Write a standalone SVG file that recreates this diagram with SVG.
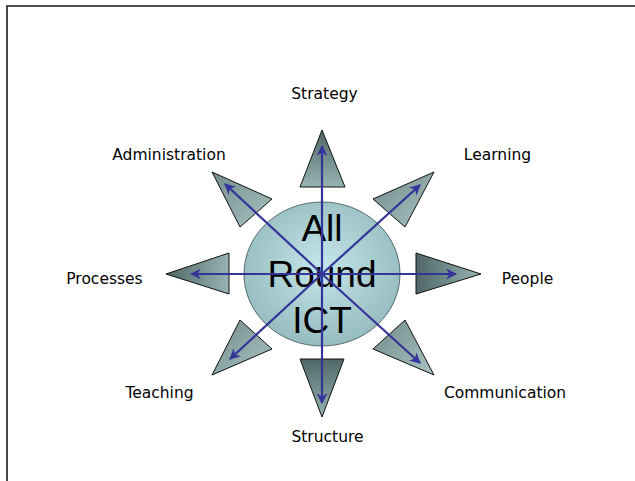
<svg xmlns="http://www.w3.org/2000/svg" width="635" height="481" viewBox="0 0 635 481">
  <style>
    .frame { fill: none; stroke: #1a1a1a; stroke-width: 1.6; }
    .spike { stroke: #111; stroke-width: 1; stroke-linejoin: miter; }
    .label { font-family: "DejaVu Sans", Tahoma, sans-serif; font-size: 15.5px; fill: #000; text-anchor: middle; }
    .core-text { font-family: "Liberation Sans", Arial, sans-serif; font-size: 37px; fill: #000; text-anchor: middle; }
    .arrow { stroke: #343499; stroke-width: 2.2; fill: none; marker-end: url(#head); }
  </style>
  <defs>
    <linearGradient id="gV" x1="0" y1="0" x2="0" y2="1">
      <stop offset="0" stop-color="#4f6767"/>
      <stop offset="1" stop-color="#98b3b3"/>
    </linearGradient>
    <linearGradient id="gH" x1="0" y1="0" x2="1" y2="0">
      <stop offset="0" stop-color="#4f6767"/>
      <stop offset="1" stop-color="#98b3b3"/>
    </linearGradient>
    <linearGradient id="gD" x1="0" y1="0" x2="1" y2="1">
      <stop offset="0" stop-color="#728c8c"/>
      <stop offset="1" stop-color="#a9c3c3"/>
    </linearGradient>
    <radialGradient id="gCore" cx="0.5" cy="0.45" r="0.55">
      <stop offset="0" stop-color="#c4e6ea"/>
      <stop offset="1" stop-color="#95bcc0"/>
    </radialGradient>
    <marker id="head" viewBox="0 0 10 10" refX="9" refY="5" markerWidth="5" markerHeight="5" orient="auto" markerUnits="strokeWidth">
      <path d="M0,0 L10,5 L0,10 L3,5 Z" fill="#343499"/>
    </marker>
  </defs>

  <!-- page frame: top and left edges -->
  <path class="frame" d="M7,481 L7,6 L635,6"/>

  <!-- outward spikes around the core -->
  <g id="spike-strategy"><polygon class="spike" fill="url(#gV)" points="322,130 345,187 300,187"/></g>
  <g id="spike-structure"><polygon class="spike" fill="url(#gV)" points="300,359 344,359 322,417"/></g>
  <g id="spike-processes"><polygon class="spike" fill="url(#gH)" points="166,274 229,253 229,294"/></g>
  <g id="spike-people"><polygon class="spike" fill="url(#gH)" points="416,253 481,274 416,294"/></g>
  <g id="spike-administration"><polygon class="spike" fill="url(#gD)" points="212,172 272,199 240,227"/></g>
  <g id="spike-learning"><polygon class="spike" fill="url(#gD)" points="434,172 405,227 373,199"/></g>
  <g id="spike-teaching"><polygon class="spike" fill="url(#gD)" points="212,375 240,320 272,349"/></g>
  <g id="spike-communication"><polygon class="spike" fill="url(#gD)" points="434,375 373,349 405,320"/></g>

  <!-- central ellipse -->
  <g id="core">
    <ellipse cx="322" cy="274" rx="78" ry="72" fill="url(#gCore)" stroke="#556b6b" stroke-width="1"/>
    <text class="core-text" x="322" y="241">All</text>
    <text class="core-text" x="322" y="287">Round</text>
    <text class="core-text" x="322" y="333">ICT</text>
  </g>

  <!-- arrows radiating from the centre -->
  <g id="connectors">
    <line class="arrow" x1="322" y1="274" x2="322" y2="146"/>
    <line class="arrow" x1="322" y1="274" x2="322" y2="403"/>
    <line class="arrow" x1="322" y1="274" x2="191" y2="274"/>
    <line class="arrow" x1="322" y1="274" x2="456" y2="274"/>
    <line class="arrow" x1="322" y1="274" x2="225" y2="184"/>
    <line class="arrow" x1="322" y1="274" x2="420" y2="185"/>
    <line class="arrow" x1="322" y1="274" x2="230" y2="359"/>
    <line class="arrow" x1="322" y1="274" x2="420" y2="363"/>
  </g>

  <!-- labels -->
  <g id="label-strategy"><text class="label" x="324.5" y="99">Strategy</text></g>
  <g id="label-administration"><text class="label" x="169" y="160">Administration</text></g>
  <g id="label-learning"><text class="label" x="497.5" y="160">Learning</text></g>
  <g id="label-processes"><text class="label" x="104.5" y="284">Processes</text></g>
  <g id="label-people"><text class="label" x="527.5" y="284">People</text></g>
  <g id="label-teaching"><text class="label" x="159.5" y="398">Teaching</text></g>
  <g id="label-communication"><text class="label" x="505" y="398">Communication</text></g>
  <g id="label-structure"><text class="label" x="327.5" y="442">Structure</text></g>
</svg>
